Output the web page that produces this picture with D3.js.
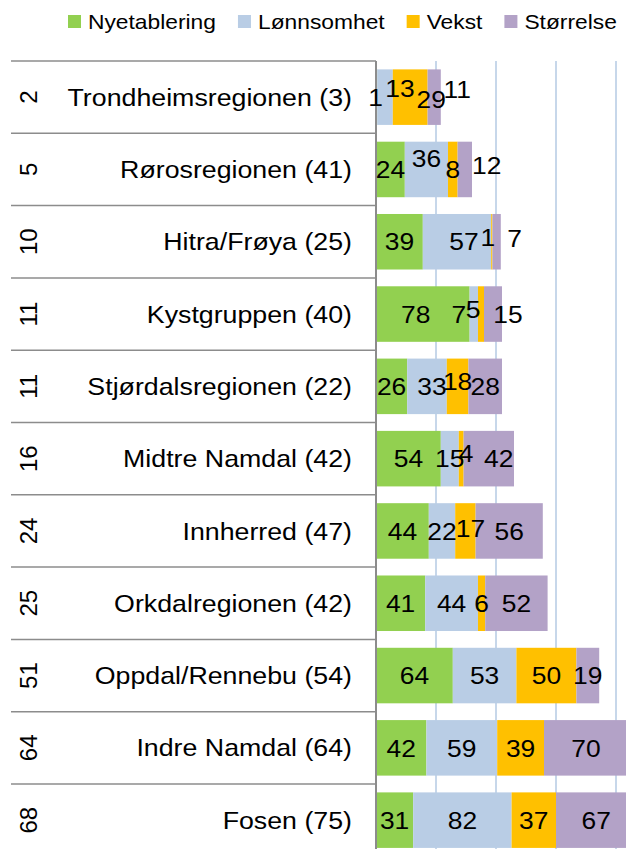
<!DOCTYPE html>
<html>
<head>
<meta charset="utf-8">
<script src="https://cdn.jsdelivr.net/npm/d3@7"></script>
<style>
  html, body { margin: 0; padding: 0; background: #fff; }
  svg { display: block; font-family: "Liberation Sans", Arial, sans-serif; }
</style>
</head>
<body>
<svg id="chart" width="626" height="849"></svg>
<script>
// Ranking and region names (number of municipalities in parentheses)
const ranks = [2, 5, 10, 11, 11, 16, 24, 25, 51, 64, 68];
const regions = [
  "Trondheimsregionen (3)", "Rørosregionen (41)", "Hitra/Frøya (25)",
  "Kystgruppen (40)", "Stjørdalsregionen (22)", "Midtre Namdal (42)",
  "Innherred (47)", "Orkdalregionen (42)", "Oppdal/Rennebu (54)",
  "Indre Namdal (64)", "Fosen (75)"
];
const seriesNames = ["Nyetablering", "Lønnsomhet", "Vekst", "Størrelse"];
const nyetablering = [1, 24, 39, 78, 26, 54, 44, 41, 64, 42, 31];
const lonnsomhet   = [13, 36, 57, 7, 33, 15, 22, 44, 53, 59, 82];
const vekst        = [29, 8, 1, 5, 18, 4, 17, 6, 50, 39, 37];
const storrelse    = [11, 12, 7, 15, 28, 42, 56, 52, 19, 70, 67];
const xTicks = [0, 50, 100, 150, 200, 250];

const colors = ["#92d050", "#b9cde5", "#ffc000", "#b3a2c7"];

// Hand-placed label shifts (px) for crowded segments, keyed "row-series"
const labelShift = {
  "0-0": [-1, 0], "0-1": [15, -9], "0-2": [21, 2], "0-3": [23, -8],
  "1-1": [0, -11], "1-3": [22, -4],
  "2-1": [7, 0], "2-2": [-4, -4], "2-3": [18, -3],
  "3-0": [-7, 0], "3-1": [-15, 0], "3-2": [-8, -5], "3-3": [15, 0],
  "4-1": [5, 0], "4-2": [0, -5],
  "5-2": [5, -5], "5-3": [10, 0],
  "6-2": [5, -3]
};

const rows = regions.map((r, i) => ({
  region: r, rank: ranks[i], idx: i,
  Nyetablering: nyetablering[i], "Lønnsomhet": lonnsomhet[i],
  Vekst: vekst[i], "Størrelse": storrelse[i]
}));

const svg = d3.select("#chart");

const plotLeft = 376, plotTop = 61, rowStep = 72.3;
const plotBottom = plotTop + rowStep * regions.length;

const x = d3.scaleLinear().domain([0, 250]).range([plotLeft, plotLeft + 300]);
const y = d3.scaleBand()
  .domain(d3.range(regions.length))
  .range([plotTop, plotBottom])
  .paddingInner(0.232).paddingOuter(0.116);

// vertical gridlines
svg.append("g").selectAll("line")
  .data(xTicks.filter(t => t > 0))
  .join("line")
  .attr("x1", d => x(d)).attr("x2", d => x(d))
  .attr("y1", plotTop).attr("y2", plotBottom)
  .attr("stroke", "#b9cde5").attr("stroke-width", 1.6);

// stacked bars
const stack = d3.stack().keys(seriesNames)(rows);
const layers = svg.append("g").selectAll("g")
  .data(stack).join("g")
  .attr("fill", (d, i) => colors[i]);

layers.selectAll("rect")
  .data(d => d)
  .join("rect")
  .attr("x", d => x(d[0]))
  .attr("width", d => x(d[1]) - x(d[0]))
  .attr("y", d => y(d.data.idx))
  .attr("height", y.bandwidth());

// row separators on the category side
svg.append("g").selectAll("line")
  .data(d3.range(regions.length + 1))
  .join("line")
  .attr("x1", 11).attr("x2", plotLeft)
  .attr("y1", i => plotTop + i * rowStep).attr("y2", i => plotTop + i * rowStep)
  .attr("stroke", "#8c8c8c").attr("stroke-width", 1.5);

// category axis line
svg.append("line")
  .attr("x1", plotLeft).attr("x2", plotLeft)
  .attr("y1", plotTop).attr("y2", plotBottom)
  .attr("stroke", "#8c8c8c").attr("stroke-width", 2);

const rowCenter = i => y(i) + y.bandwidth() / 2;
const sx = 1.1;

// region names
svg.append("g").selectAll("text")
  .data(rows).join("text")
  .attr("transform", d => `translate(352,${rowCenter(d.idx)}) scale(1.115,1)`)
  .attr("dy", "0.36em")
  .attr("text-anchor", "end")
  .attr("font-size", 24)
  .attr("fill", "#000")
  .text(d => d.region);

// rank numbers, rotated
svg.append("g").selectAll("text")
  .data(rows).join("text")
  .attr("transform", d => `translate(28,${rowCenter(d.idx)}) rotate(-90)`)
  .attr("dy", "0.36em")
  .attr("text-anchor", "middle")
  .attr("font-size", 24)
  .attr("fill", "#000")
  .text(d => d.rank);

// value labels
stack.forEach((layer, si) => {
  svg.append("g").selectAll("text")
    .data(layer).join("text")
    .attr("transform", d => {
      const s = labelShift[`${d.data.idx}-${si}`] || [0, 0];
      const cx = (x(d[0]) + x(d[1])) / 2 + s[0];
      const cy = rowCenter(d.data.idx) + s[1];
      return `translate(${cx},${cy}) scale(${sx},1)`;
    })
    .attr("dy", "0.36em")
    .attr("text-anchor", "middle")
    .attr("font-size", 24)
    .attr("fill", "#000")
    .text(d => d[1] - d[0]);
});

// legend
const legendSx = 1.14;
const legend = svg.append("g");
let lx = 68;
seriesNames.forEach((name, i) => {
  legend.append("rect")
    .attr("x", lx).attr("y", 15).attr("width", 13).attr("height", 13)
    .attr("fill", colors[i]);
  const t = legend.append("text")
    .attr("transform", `translate(${lx + 20},29) scale(${legendSx},1)`)
    .attr("font-size", 20)
    .attr("fill", "#000")
    .text(name);
  lx += 20 + t.node().getComputedTextLength() * legendSx + 22;
});
</script>
</body>
</html>
